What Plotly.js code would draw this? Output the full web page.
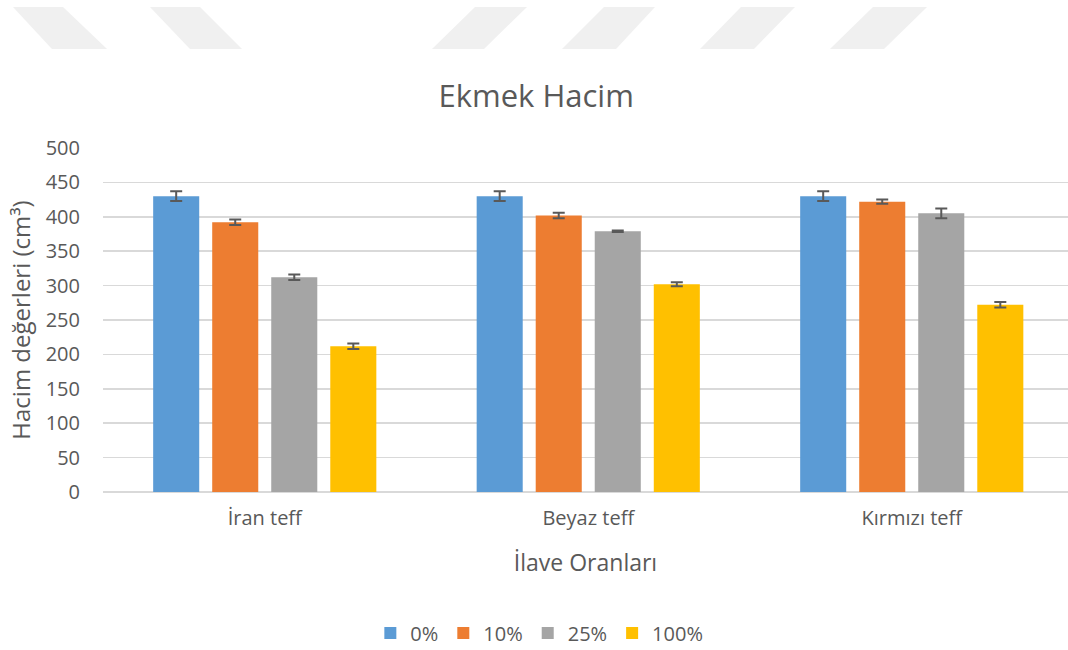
<!DOCTYPE html>
<html>
<head>
<meta charset="utf-8">
<script src="https://cdn.plot.ly/plotly-3.0.1.min.js"></script>
<style>
html,body{margin:0;padding:0;background:#fff;}
#chart{width:1068px;height:650px;}
</style>
</head>
<body>
<div id="chart"></div>
<script>
const categories = ["İran teff", "Beyaz teff", "Kırmızı teff"];
const seriesNames = ["0%", "10%", "25%", "100%"];
const values0 = [430, 430, 430];
const values10 = [392, 402, 422];
const values25 = [312, 379, 405];
const values100 = [212, 302, 272];
const err0 = [7, 7, 7];
const err10 = [4, 4, 3];
const err25 = [4, 1, 7];
const err100 = [4, 3, 4];
const yTicks = [0, 50, 100, 150, 200, 250, 300, 350, 400, 450, 500];

const colors = ["#5B9BD5", "#ED7D31", "#A5A5A5", "#FFC000"];
const seriesValues = [values0, values10, values25, values100];
const seriesErr = [err0, err10, err25, err100];

const W = 1068, H = 650;
const M = {l: 103, r: 0, t: 148, b: 158};
const plotW = W - M.l - M.r, plotH = H - M.t - M.b;

// decorative watermark polygons (pixel coords of page)
const watermark = [
  [[13,7],[63,7],[107,49],[52,49]],
  [[150,7],[200,7],[242,49],[190,49]],
  [[475,7],[527,7],[484,49],[432,49]],
  [[604,7],[655,7],[616,49],[562,49]],
  [[741,7],[795,7],[754,49],[700,49]],
  [[873,7],[927,7],[884,49],[830,49]]
];
function px2paper(p){ return [(p[0]-M.l)/plotW, (H-M.b-p[1])/plotH]; }
const shapes = watermark.map(poly => {
  const pts = poly.map(px2paper);
  return {
    type: 'path', xref: 'paper', yref: 'paper', layer: 'below',
    path: 'M' + pts.map(q => q[0].toFixed(5) + ',' + q[1].toFixed(5)).join(' L') + ' Z',
    fillcolor: '#f0f0f0', line: {width: 0}
  };
});

const font = "'Open Sans', 'Noto Sans', sans-serif";
const txt = "#595959";

const traces = seriesNames.map((name, i) => ({
  type: 'bar',
  name: name,
  x: categories,
  y: seriesValues[i],
  marker: {color: colors[i], line: {width: 0}},
  error_y: {type: 'data', array: seriesErr[i], visible: true, color: '#595959', thickness: 2, width: 6}
}));

const layout = {
  width: W, height: H,
  margin: M,
  paper_bgcolor: '#fff', plot_bgcolor: 'rgba(0,0,0,0)',
  font: {family: font, color: txt, size: 20},
  title: {text: 'Ekmek Hacim', font: {family: font, size: 31, color: txt}, xref: 'container', yref: 'container', x: 0.502, y: 1 - 96/650, xanchor: 'center', yanchor: 'middle'},
  barmode: 'group',
  bargap: 0.27,
  bargroupgap: 0.22,
  showlegend: true,
  legend: {orientation: 'h', xref: 'container', yref: 'container', x: 0.505, y: 1 - 633/650, xanchor: 'center', yanchor: 'middle', font: {family: font, size: 20, color: txt}, traceorder: 'normal', itemwidth: 30},
  xaxis: {
    type: 'category',
    range: [-0.5, -0.5 + plotW / 323.5],
    showgrid: false, zeroline: false, showline: false,
    ticks: '', ticklabelstandoff: 12,
    tickfont: {family: font, size: 20, color: txt},
    title: {text: 'İlave Oranları', font: {family: font, size: 23, color: txt}, standoff: 24}
  },
  yaxis: {
    range: [0, 500],
    tickvals: yTicks,
    showgrid: true, gridcolor: '#d9d9d9', gridwidth: 1.5,
    zeroline: true, zerolinecolor: '#d9d9d9', zerolinewidth: 1.5,
    showline: false, ticks: '', ticklabelstandoff: 22,
    tickfont: {family: font, size: 20, color: txt},
    title: {text: 'Hacim değerleri (cm³)', font: {family: font, size: 24, color: txt}, standoff: 8}
  },
  shapes: shapes
};

Plotly.newPlot('chart', traces, layout, {displayModeBar: false, staticPlot: true});
</script>
</body>
</html>
